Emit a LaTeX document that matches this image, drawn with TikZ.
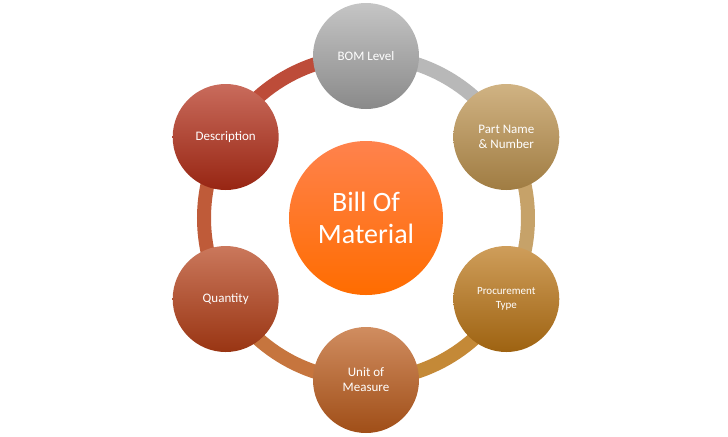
\documentclass[tikz,border=0pt]{standalone}
\usepackage{fontspec}
\setmainfont{Carlito}
\begin{document}
\begin{tikzpicture}[x=0.5pt,y=0.5pt,
  item/.style={circle,minimum size=53pt,inner sep=0pt,align=center,text=white,font=\fontsize{6.5}{7.5}\selectfont},
  hub/.style={circle,minimum size=77pt,inner sep=0pt,align=center,text=white,font=\fontsize{14}{16}\selectfont}]
\useasboundingbox (-366,-218) rectangle (362,218);
\definecolor{cA}{RGB}{172,172,172}
\definecolor{cB}{RGB}{188,146,78}
\definecolor{cC}{RGB}{186,116,20}
\definecolor{cD}{RGB}{188,92,28}
\definecolor{cE}{RGB}{180,62,22}
\definecolor{cF}{RGB}{178,44,22}
% ring
\foreach \a/\b/\c in {90/30/cA,30/-30/cB,-30/-90/cC,-90/-150/cD,-150/-210/cE,150/90/cF}
  \draw[line width=7pt,\c!85!white] (\a:162) arc[start angle=\a,end angle=\b,radius=162];
% nodes
\node[hub,top color=orange!60!red!70!white,bottom color=orange!85!red] (bom) at (0,0) {Bill Of\\Material};
\node[item,top color=cA!70!white,bottom color=cA!80!black] (level) at (90:162) {BOM Level};
\node[item,top color=cB!70!white,bottom color=cB!85!black] (part) at (30:162) {Part Name\\\& Number};
\node[item,top color=cC!70!white,bottom color=cC!85!black,font=\fontsize{5.5}{7}\selectfont] (proc) at (-30:162) {Procurement\\Type};
\node[item,top color=cD!70!white,bottom color=cD!85!black] (unit) at (-90:162) {Unit of\\Measure};
\node[item,top color=cE!70!white,bottom color=cE!85!black] (qty) at (-150:162) {Quantity};
\node[item,top color=cF!70!white,bottom color=cF!85!black] (desc) at (150:162) {Description};
\end{tikzpicture}
\end{document}
